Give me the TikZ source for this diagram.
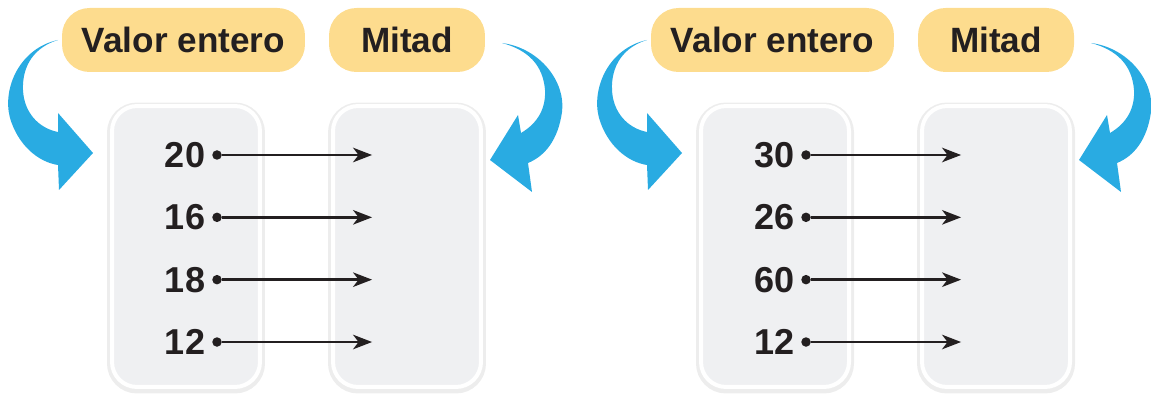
\documentclass[tikz,border=0pt]{standalone}
\usepackage{fontspec}
\setmainfont{Liberation Sans}
\usetikzlibrary{positioning, arrows.meta, shadows}

\definecolor{pillcol}{HTML}{FDDC8E}
\definecolor{boxcol}{HTML}{EFF0F2}
\definecolor{bluecol}{HTML}{29ABE2}
\definecolor{inkcol}{HTML}{231F20}

\tikzset{
	pill/.style={fill=pillcol, rounded corners=0.55cm, minimum height=1.28cm, inner sep=0,
		text=inkcol, font=\fontsize{20}{24}\selectfont\bfseries},
	column/.style={fill=boxcol, draw=white, line width=0.08cm, rounded corners=0.5cm,
		minimum width=2.96cm, minimum height=5.62cm,
		general shadow={draw=black!7, line width=0.2cm, shadow yshift=-0.03cm}},
	dot/.style={circle, fill=inkcol, inner sep=0, minimum size=0.19cm, on grid},
	num/.style={inner sep=0, text=inkcol, font=\fontsize{20.5}{24}\selectfont\bfseries},
	link/.style={draw=inkcol, line width=0.05cm, -{Stealth[length=0.38cm, width=0.29cm, inset=0.11cm]}},
	swoop/.style={fill=bluecol}
}

\begin{document}
\begin{tikzpicture}[x=0.02cm, y=-0.02cm, node distance=1.247cm]

	\useasboundingbox (0,0) rectangle (1151,394);

	\foreach \dx/\a/\b/\c/\d [count=\g] in {0/20/16/18/12, 589/30/26/60/12} {
	\begin{scope}[shift={(\dx,0)}]

	\node[column] (whole\g) at (186,246.5) {};
	\node[column] (half\g) at (407,246.5) {};
	\node[pill, minimum width=4.86cm] (tagw\g) at (183.5,40) {Valor entero};
	\node[pill, minimum width=3.12cm] (tagh\g) at (407,40) {Mitad};

	\node[dot] (p\g1) at (217,155) {};
	\node[dot, below=of p\g1] (p\g2) {};
	\node[dot, below=of p\g2] (p\g3) {};
	\node[dot, below=of p\g3] (p\g4) {};

	\node[num, left=0.13cm of p\g1] (n\g1) {\a};
	\node[num, left=0.13cm of p\g2] (n\g2) {\b};
	\node[num, left=0.13cm of p\g3] (n\g3) {\c};
	\node[num, left=0.13cm of p\g4] (n\g4) {\d};

	\coordinate[right=3cm of p\g1] (q\g1);
	\coordinate[right=3cm of p\g2] (q\g2);
	\coordinate[right=3cm of p\g3] (q\g3);
	\coordinate[right=3cm of p\g4] (q\g4);

	\draw[link] (p\g1) -- (q\g1);
	\draw[link] (p\g2) -- (q\g2);
	\draw[link] (p\g3) -- (q\g3);
	\draw[link] (p\g4) -- (q\g4);

	% blue curved arrows
	\fill[swoop] (58,40) .. controls (20,48) and (2,88) .. (10,118)
		.. controls (18,145) and (38,162) .. (58,165) -- (59,190) -- (93,153) -- (58,113) -- (58,132)
		.. controls (38,128) and (24,112) .. (23,90) .. controls (22,65) and (35,47) .. (58,40) -- cycle;
	\fill[swoop] (502,43) .. controls (540,48) and (566,82) .. (562,112)
		.. controls (558,140) and (545,156) .. (528,163) -- (532,192) -- (490,160) -- (518,115) -- (521,133)
		.. controls (538,123) and (546,108) .. (545,90) .. controls (543,65) and (528,50) .. (502,43) -- cycle;

	\end{scope}
	}
\end{tikzpicture}
\end{document}
